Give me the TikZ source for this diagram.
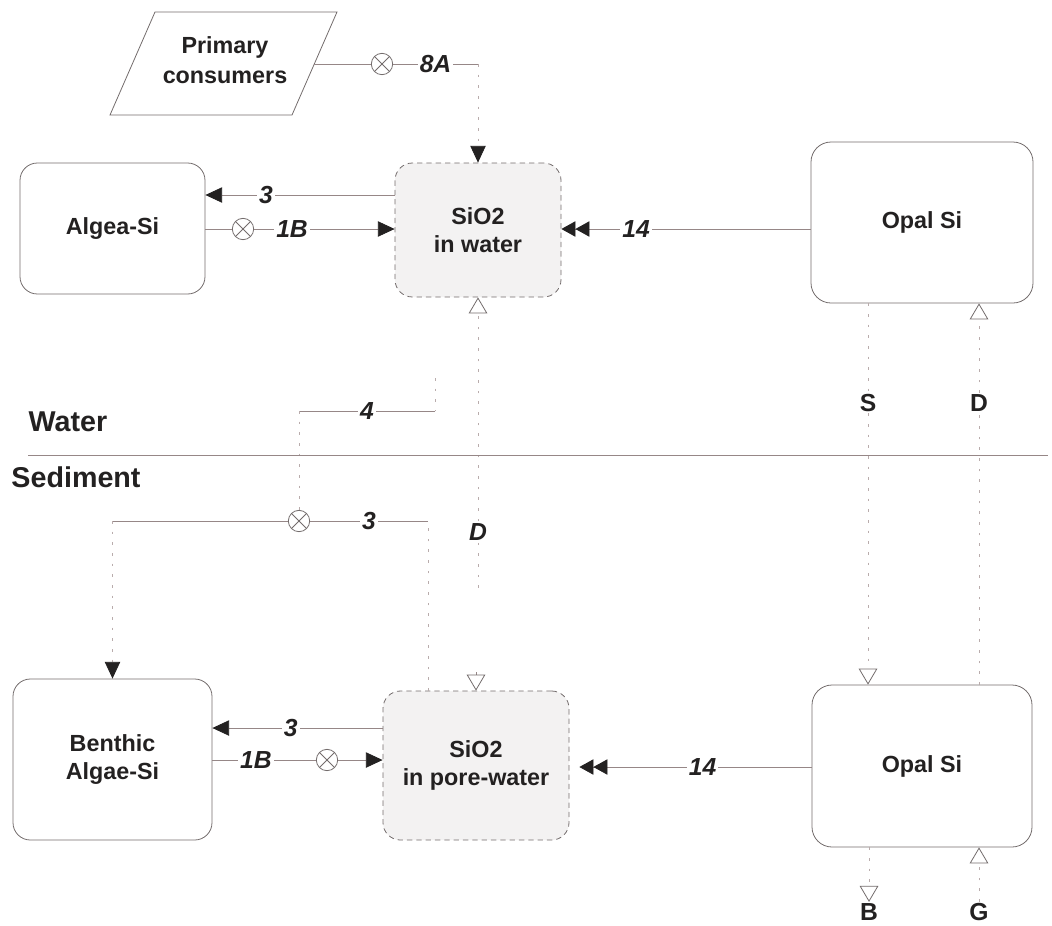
\documentclass[tikz,border=0pt]{standalone}
\usepackage{fontspec}
\setmainfont{Liberation Sans}
\usetikzlibrary{arrows.meta}
\definecolor{inkc}{RGB}{35,33,33}
\definecolor{linec}{RGB}{150,135,135}
\definecolor{faintc}{RGB}{185,172,172}
\definecolor{boxc}{RGB}{115,108,108}
\definecolor{poolc}{RGB}{243,242,242}
\begin{document}
\begin{tikzpicture}[x=0.75pt,y=-0.75pt,
  every node/.style={text=inkc, font=\bfseries\fontsize{17.5}{21}\selectfont},
  pool/.style={draw=boxc, line width=0.6pt, rounded corners=13pt, align=center, inner sep=0pt},
  dpool/.style={pool, dash pattern=on 4pt off 3pt, fill=poolc},
  hl/.style={draw=linec, line width=0.6pt},
  vl/.style={draw=faintc, line width=0.6pt, dash pattern=on 2pt off 6pt},
  ftip/.style={-{Triangle[length=12.5pt,width=11.5pt,color=inkc]}},
  otip/.style={-{Triangle[open,length=12pt,width=14pt,color=boxc]}},
  dtip/.style={-{Triangle[length=10.5pt,width=11.5pt,color=inkc]Triangle[length=10.5pt,width=11.5pt,color=inkc]}},
  flab/.style={fill=white, inner sep=1.5pt, font=\bfseries\itshape\fontsize{18.5}{22}\selectfont},
  slab/.style={inner sep=1pt, font=\bfseries\fontsize{18.5}{22}\selectfont},
  zone/.style={font=\bfseries\fontsize{21.5}{25}\selectfont},
  mix/.style={circle, draw=boxc, line width=0.6pt, minimum size=16pt, inner sep=0pt,
    path picture={\draw[boxc,line width=0.6pt]
      (path picture bounding box.north west) -- (path picture bounding box.south east)
      (path picture bounding box.north east) -- (path picture bounding box.south west);}},
]
\useasboundingbox (0,0) rectangle (1052,925);

% pools
\node[pool, minimum width=138.75pt, minimum height=98.25pt] (alg) at (112.5,228.5) {Algea-Si};
\node[dpool, minimum width=124.5pt, minimum height=100.5pt] (sw) at (478,230) {SiO2\\in water};
\node[pool, minimum width=166.5pt, minimum height=120.75pt, rounded corners=15pt] (ot) at (922,222.5) {Opal Si};
\node[pool, minimum width=149.25pt, minimum height=120.75pt] (ba) at (112.5,759.5) {Benthic\\Algae-Si};
\node[dpool, minimum width=139.5pt, minimum height=111.75pt] (pw) at (476,765.5) {SiO2\\in pore-water};
\node[pool, minimum width=165pt, minimum height=121.5pt, rounded corners=15pt] (ob) at (922,766) {Opal Si};

% primary consumers (parallelogram)
\draw[draw=boxc, line width=0.6pt] (155,12) -- (337,12) -- (292,115) -- (110,115) -- cycle;
\node[align=center] (pc) at (225,60) {Primary\\[2pt]consumers};
\coordinate (pcr) at (314,64);

% mixing symbols
\node[mix] (m8) at (382,64) {};
\node[mix] (m1) at (243,229) {};
\node[mix] (m3) at (299,521) {};
\node[mix] (m1b) at (327,760) {};

% flow 8A
\coordinate (k8) at (478,64);
\draw[hl] (pcr) -- (m8);
\draw[hl] (m8) -- node[flab]{8A} (k8);
\draw[vl, ftip] (k8) -- (sw.north);

% water column fluxes
\draw[hl, ftip] (sw.west |- 0,195) -- node[flab, pos=0.68]{3} (alg.east |- 0,195);
\draw[hl] (alg.east |- 0,229) -- (m1);
\draw[hl, ftip] (m1) -- node[flab, pos=0.27]{1B} (sw.west |- 0,229);
\draw[hl, dtip] (ot.west |- 0,229) -- node[flab, pos=0.7]{14} (sw.east |- 0,229);

% diffusion between pore-water and water
\node[flab] (dm) at (478,532) {D};
\coordinate (dl) at (478,588);
\coordinate (dt) at (476,672);
\draw[vl, otip] (dm) -- (sw.south);
\draw[vl] (dm) -- (dl);
\draw[hl, otip] (dt) -- (pw.north);

% flow 4
\coordinate (s4) at (435,378);
\coordinate (k4a) at (435,411);
\coordinate (k4) at (299,411);
\draw[vl] (s4) -- (k4a);
\draw[hl] (k4a) -- node[flab]{4} (k4);
\draw[vl] (k4) -- (m3);

% flow 3 to benthic algae
\coordinate (k3) at (428,521);
\coordinate (k3b) at (112.5,521);
\draw[vl] (428,0 |- pw.north) -- (k3);
\draw[hl] (k3) -- node[flab]{3} (m3);
\draw[hl] (m3) -- (k3b);
\draw[vl, ftip] (k3b) -- (ba.north);

% sediment fluxes
\draw[hl, ftip] (pw.west |- 0,728) -- node[flab, pos=0.54]{3} (ba.east |- 0,728);
\draw[hl] (ba.east |- 0,760) -- node[flab, pos=0.42]{1B} (m1b);
\draw[hl, ftip] (m1b) -- (pw.west |- 0,760);
\draw[hl, dtip, shorten >=7.5pt] (ob.west |- 0,767) -- node[flab, pos=0.45]{14} (pw.east |- 0,767);

% opal exchanges
\node[slab, fill=white] (S) at (868,403) {S};
\node[slab, fill=white] (Dr) at (979,403) {D};
\draw[vl] (868,0 |- ot.south) -- (S);
\draw[vl, otip] (S) -- (868,0 |- ob.north);
\draw[vl] (979,0 |- ob.north) -- (Dr);
\draw[vl, otip] (Dr) -- (979,0 |- ot.south);
\node[slab] (B) at (869,912) {B};
\node[slab] (G) at (979,912) {G};
\draw[vl, otip] (869,0 |- ob.south) -- (B);
\draw[vl, otip] (G) -- (979,0 |- ob.south);

% water / sediment boundary
\node[zone] (water) at (68,422) {Water};
\node[zone] (sed) at (76,477) {Sediment};
\coordinate (sepl) at (28,455);
\coordinate (sepr) at (1048,455);
\draw[hl] (sepl) -- (sepr);
\end{tikzpicture}
\end{document}
